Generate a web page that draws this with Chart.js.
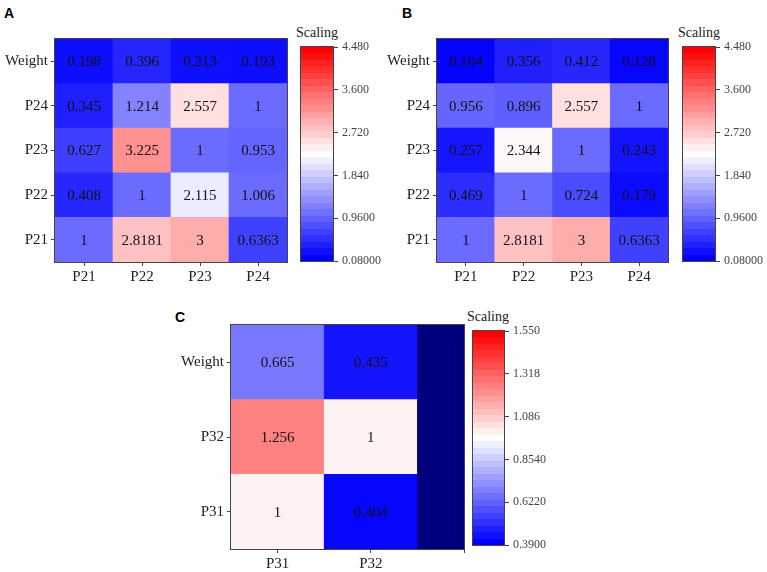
<!DOCTYPE html>
<html>
<head>
<meta charset="utf-8">
<script src="https://cdn.jsdelivr.net/npm/chart.js@4.4.1/dist/chart.umd.min.js"></script>
<style>
body { margin: 0; background: #fff; }
#page { position: relative; width: 767px; height: 572px; overflow: hidden; background: #fff; }
canvas { position: absolute; }
.tag { position: absolute; font: bold 14px "Liberation Sans", Arial, sans-serif; line-height: 14px; color: #000; }
.cap { position: absolute; width: 60px; text-align: center; font: 14px "Liberation Serif", serif; line-height: 14px; color: #222; }
</style>
</head>
<body>
<div id="page">
  <div class="tag" style="left:4px;top:6px">A</div>
  <div class="tag" style="left:402px;top:6px">B</div>
  <div class="tag" style="left:175px;top:310px">C</div>
  <div class="cap" style="left:287px;top:26px">Scaling</div>
  <div class="cap" style="left:669px;top:26px">Scaling</div>
  <div class="cap" style="left:458px;top:310px">Scaling</div>
  <canvas id="heatA" width="300" height="290" style="left:0;top:0"></canvas>
  <canvas id="heatB" width="300" height="290" style="left:380px;top:0"></canvas>
  <canvas id="heatC" width="320" height="282" style="left:160px;top:290px"></canvas>
  <canvas id="barA" width="100" height="290" style="left:290px;top:0"></canvas>
  <canvas id="barB" width="95" height="290" style="left:672px;top:0"></canvas>
  <canvas id="barC" width="100" height="282" style="left:462px;top:290px"></canvas>
</div>
<script>
// rows listed top to bottom as in the figure
var rowsAB = ['Weight', 'P24', 'P23', 'P22', 'P21'];
var colsAB = ['P21', 'P22', 'P23', 'P24'];
var valuesA = [
	[0.198, 0.396, 0.213, 0.193],
	[0.345, 1.214, 2.557, 1],
	[0.627, 3.225, 1, 0.953],
	[0.408, 1, 2.115, 1.006],
	[1, 2.8181, 3, 0.6363]
];
var valuesB = [
	[0.104, 0.356, 0.412, 0.128],
	[0.956, 0.896, 2.557, 1],
	[0.257, 2.344, 1, 0.243],
	[0.469, 1, 0.724, 0.179],
	[1, 2.8181, 3, 0.6363]
];
var rowsC = ['Weight', 'P32', 'P31'];
var colsC = ['P31', 'P32', ''];
var valuesC = [
	[0.665, 0.435, null],
	[1.256, 1, null],
	[1, 0.404, null]
];
var scaleTicksAB = [0.08, 0.96, 1.84, 2.72, 3.6, 4.48];
var scaleLabelsAB = ['0.08000', '0.9600', '1.840', '2.720', '3.600', '4.480'];
var scaleTicksC = [0.39, 0.622, 0.854, 1.086, 1.318, 1.55];
var scaleLabelsC = ['0.3900', '0.6220', '0.8540', '1.086', '1.318', '1.550'];

Chart.defaults.font.family = '"Liberation Serif", "Times New Roman", serif';
Chart.defaults.animation = false;
Chart.defaults.plugins.legend.display = false;
Chart.defaults.plugins.tooltip.enabled = false;

// blue -> white -> red
function scaleColor(v, lo, hi) {
	var t = Math.max(0, Math.min(1, (v - lo) / (hi - lo)));
	var s;
	if (t < 0.5) {
		s = Math.round(255 * t / 0.5);
		return 'rgb(' + s + ',' + s + ',255)';
	}
	s = Math.round(255 * (1 - (t - 0.5) / 0.5));
	return 'rgb(255,' + s + ',' + s + ')';
}

function bandGradient(chart, lo, hi) {
	var ys = chart.scales.y;
	if (!ys) return '#0000ff';
	var y0 = ys.getPixelForValue(lo), y1 = ys.getPixelForValue(hi);
	if (!isFinite(y0) || !isFinite(y1) || y0 === y1) return '#0000ff';
	var g = chart.ctx.createLinearGradient(0, y0, 0, y1);
	var n = 33;
	for (var i = 0; i < n; i++) {
		var col = scaleColor(lo + (hi - lo) * i / (n - 1), lo, hi);
		g.addColorStop(i / n, col);
		g.addColorStop((i + 1) / n, col);
	}
	return g;
}

var framePlugin = {
	id: 'frame',
	afterDraw: function(chart) {
		var a = chart.chartArea, ctx = chart.ctx;
		ctx.save();
		ctx.strokeStyle = '#444';
		ctx.lineWidth = 1;
		ctx.strokeRect(a.left - 0.5, a.top - 0.5, a.right - a.left + 1, a.bottom - a.top + 1);
		ctx.restore();
	}
};

var cellText = {
	id: 'cellText',
	afterDatasetsDraw: function(chart) {
		var ctx = chart.ctx;
		ctx.save();
		ctx.font = '15px "Liberation Serif", serif';
		ctx.fillStyle = '#111';
		ctx.textAlign = 'center';
		ctx.textBaseline = 'middle';
		chart.data.datasets.forEach(function(ds, i) {
			chart.getDatasetMeta(i).data.forEach(function(bar, j) {
				var v = ds.cellValues[j];
				if (v === null) return;
				ctx.fillText(String(v), bar.x, (bar.y + bar.base) / 2 + 1);
			});
		});
		ctx.restore();
	}
};

function heatmap(id, rows, cols, values, lo, hi, xMax, yAxisW, xAxisH, pad) {
	var datasets = [];
	for (var r = rows.length - 1; r >= 0; r--) { // bottom row first
		datasets.push({
			data: cols.map(function(c, j) { return { x: j + 1, y: 1 }; }),
			cellValues: values[r],
			backgroundColor: values[r].map(function(v) { return v === null ? '#00007f' : scaleColor(v, lo, hi); }),
			borderWidth: 0,
			barPercentage: 1,
			categoryPercentage: 1,
			clip: 0
		});
	}
	var bottomUp = rows.slice().reverse();
	new Chart(document.getElementById(id), {
		type: 'bar',
		data: { datasets: datasets },
		options: {
			responsive: false,
			events: [],
			layout: { padding: pad },
			scales: {
				x: {
					type: 'linear', min: 0.5, max: xMax, stacked: true, offset: false,
					afterBuildTicks: function(s) { s.ticks = cols.map(function(c, j) { return { value: j + 1 }; }); },
					afterFit: function(s) { s.height = xAxisH; },
					ticks: { callback: function(v, i) { return cols[i]; }, autoSkip: false, maxRotation: 0, padding: 2, color: '#222', font: { size: 15 } },
					grid: { display: true, drawOnChartArea: false, offset: false, tickLength: 4, color: '#444' },
					border: { display: false }
				},
				y: {
					type: 'linear', min: 0, max: rows.length, stacked: true,
					afterBuildTicks: function(s) { s.ticks = bottomUp.map(function(r, i) { return { value: i + 0.5 }; }); },
					afterFit: function(s) { s.width = yAxisW; },
					ticks: { callback: function(v, i) { return bottomUp[i]; }, autoSkip: false, padding: 3, color: '#222', font: { size: 15 } },
					grid: { display: true, drawOnChartArea: false, tickLength: 4, color: '#444' },
					border: { display: false }
				}
			}
		},
		plugins: [cellText, framePlugin]
	});
}

function colorbar(id, tickVals, tickLabels, axisW, pad) {
	var lo = tickVals[0], hi = tickVals[tickVals.length - 1];
	new Chart(document.getElementById(id), {
		type: 'bar',
		data: {
			labels: [''],
			datasets: [{
				data: [[lo, hi]],
				borderWidth: 0,
				barPercentage: 1,
				categoryPercentage: 1,
				clip: 0,
				backgroundColor: function(c) { return bandGradient(c.chart, lo, hi); }
			}]
		},
		options: {
			responsive: false,
			events: [],
			layout: { padding: pad },
			scales: {
				x: { display: false },
				y: {
					position: 'right', min: lo, max: hi,
					afterBuildTicks: function(s) { s.ticks = tickVals.map(function(v) { return { value: v }; }); },
					afterFit: function(s) { s.width = axisW; },
					ticks: { callback: function(v, i) { return tickLabels[i]; }, autoSkip: false, padding: 4, color: '#444', font: { size: 12 } },
					grid: { display: true, drawOnChartArea: false, tickLength: 5, color: '#444' },
					border: { display: false }
				}
			}
		},
		plugins: [framePlugin]
	});
}

var loAB = scaleTicksAB[0], hiAB = scaleTicksAB[scaleTicksAB.length - 1];
var loC = scaleTicksC[0], hiC = scaleTicksC[scaleTicksC.length - 1];

heatmap('heatA', rowsAB, colsAB, valuesA, loAB, hiAB, 4.5, 55, 28, { top: 39, right: 13, bottom: 0, left: 0 });
heatmap('heatB', rowsAB, colsAB, valuesB, loAB, hiAB, 4.5, 57, 28, { top: 39, right: 12, bottom: 0, left: 0 });
heatmap('heatC', rowsC, colsC, valuesC, loC, hiC, 3.0, 71, 23, { top: 35, right: 16, bottom: 0, left: 0 });

colorbar('barA', scaleTicksAB, scaleLabelsAB, 57, { top: 47, right: 0, bottom: 29, left: 11 });
colorbar('barB', scaleTicksAB, scaleLabelsAB, 52, { top: 47, right: 0, bottom: 29, left: 11 });
colorbar('barC', scaleTicksC, scaleLabelsC, 58, { top: 41, right: 0, bottom: 27, left: 11 });
</script>
</body>
</html>
